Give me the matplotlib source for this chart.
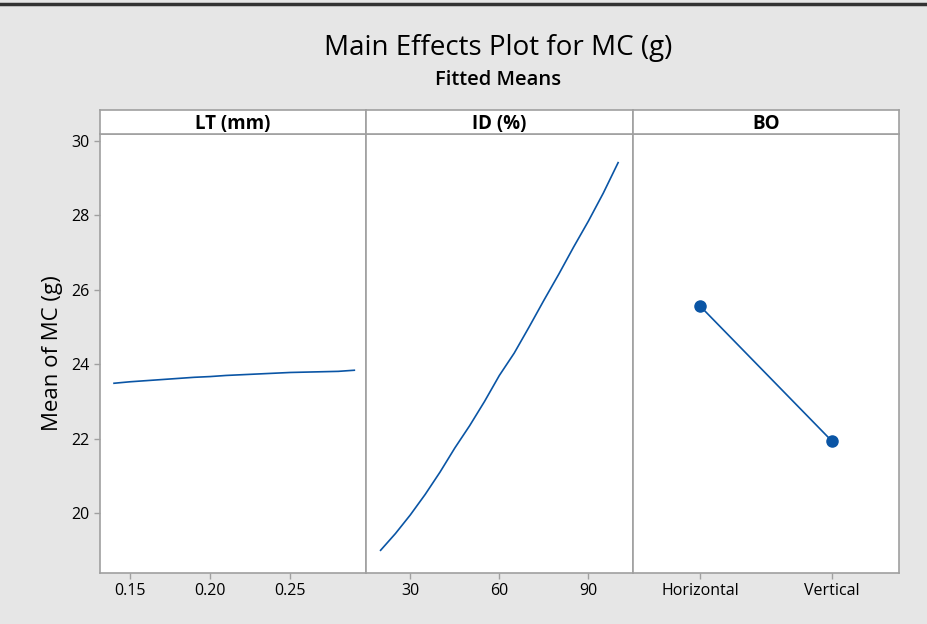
import matplotlib.pyplot as plt
from matplotlib.lines import Line2D

plt.rcParams['font.family'] = ['Open Sans', 'DejaVu Sans']

# datos
lt_x = [0.14, 0.15, 0.16, 0.17, 0.18, 0.19, 0.20, 0.21, 0.22, 0.23, 0.24, 0.25, 0.26, 0.27, 0.28, 0.29]
lt_y = [23.49, 23.53, 23.56, 23.59, 23.62, 23.65, 23.67, 23.70, 23.72, 23.74, 23.76, 23.78, 23.79, 23.80, 23.81, 23.84]

id_x = [20, 25, 30, 35, 40, 45, 50, 55, 60, 65, 70, 75, 80, 85, 90, 95, 100]
id_y = [19.0, 19.45, 19.95, 20.5, 21.1, 21.75, 22.35, 23.0, 23.7, 24.3, 25.0, 25.72, 26.42, 27.15, 27.85, 28.6, 29.42]

bo_cat = ['Horizontal', 'Vertical']
bo_y = [25.57, 21.94]

paneles = ['LT (mm)', 'ID (%)', 'BO']
lt_ticks = [0.15, 0.20, 0.25]
id_ticks = [30, 60, 90]
y_ticks = [20, 22, 24, 26, 28, 30]

color_linea = '#0a55a5'
color_borde = '#a0a0a0'
fondo = '#e6e6e6'

fig = plt.figure(figsize=(9.27, 6.24), dpi=100)
fig.patch.set_facecolor(fondo)

W, H = 927, 624
izq, der = 100, 899
arriba, abajo = 134, 573
ancho = (der - izq) / 3

ejes = []
for i in range(3):
    x0 = izq + i * ancho
    ax = fig.add_axes([x0 / W, 1 - abajo / H, ancho / W, (abajo - arriba) / H])
    ax.set_facecolor('white')
    for s in ax.spines.values():
        s.set_color(color_borde)
        s.set_linewidth(1.2)
    ax.set_ylim(18.39, 30.19)
    ax.tick_params(axis='both', colors=color_borde, labelcolor='black', labelsize=11.5, length=4, width=1)
    if i == 0:
        ax.set_yticks(y_ticks)
    else:
        ax.set_yticks([])
    ejes.append(ax)

    # franja con el nombre del factor
    tira = fig.add_axes([x0 / W, 1 - arriba / H, ancho / W, 24 / H])
    tira.set_facecolor('white')
    tira.set_xticks([])
    tira.set_yticks([])
    for s in tira.spines.values():
        s.set_color(color_borde)
        s.set_linewidth(1.2)
    tira.text(0.5, 0.42, paneles[i], ha='center', va='center', fontsize=13.5, fontweight='bold')

# LT
ax = ejes[0]
ax.plot(lt_x, lt_y, color=color_linea, linewidth=1.2)
ax.set_xlim(0.13125, 0.2975)
ax.set_xticks(lt_ticks)
ax.set_xticklabels(['0.15', '0.20', '0.25'])
ax.set_ylabel('Mean of MC (g)', fontsize=16, labelpad=6)

# ID
ax = ejes[1]
ax.plot(id_x, id_y, color=color_linea, linewidth=1.2)
ax.set_xlim(15.2, 104.9)
ax.set_xticks(id_ticks)

# BO
ax = ejes[2]
pos = list(range(1, len(bo_cat) + 1))
ax.plot(pos, bo_y, color=color_linea, linewidth=1.2, marker='o', markersize=8)
ax.set_xlim(0.49, 2.51)
ax.set_xticks(pos)
ax.set_xticklabels(bo_cat)

# titulos
fig.text(498 / W, 1 - 48 / H, 'Main Effects Plot for MC (g)', ha='center', va='center', fontsize=20)
fig.text(498 / W, 1 - 80 / H, 'Fitted Means', ha='center', va='center', fontsize=14.5, fontweight='semibold')

# borde superior oscuro
fig.add_artist(Line2D([0, 1], [1 - 4 / H, 1 - 4 / H], color='#333333', linewidth=2.5))

fig.savefig('out.png', dpi=100, facecolor=fondo)
